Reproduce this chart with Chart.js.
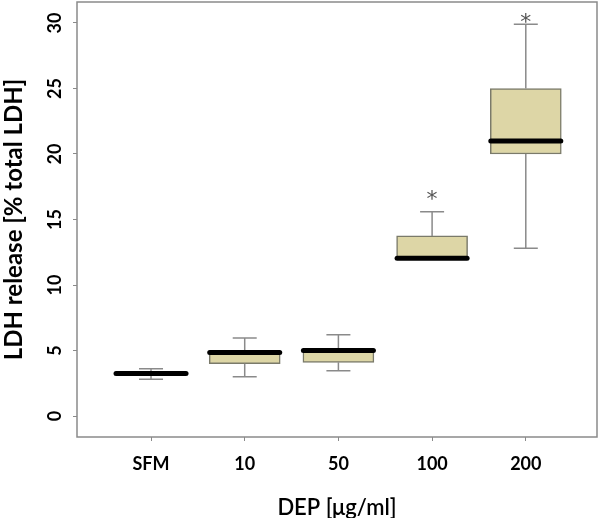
<!DOCTYPE html>
<html>
<head>
<meta charset="utf-8">
<style>
  html, body { margin: 0; padding: 0; background: #fff; }
  #wrap { width: 600px; height: 518px; }
</style>
<script src="https://cdn.jsdelivr.net/npm/chart.js@4.4.0/dist/chart.umd.min.js"></script>
</head>
<body>
<div id="wrap"><canvas id="chart"></canvas></div>
<script>
// Box plot values
const categories = ['SFM', '10', '50', '100', '200'];
const whiskerLow = [2.8, 3.0, 3.45, 12.0, 12.8];
const q1 = [3.15, 4.0, 4.1, 12.0, 20.0];
const medians = [3.25, 4.85, 5.0, 12.05, 21.0];
const q3 = [3.35, 4.95, 5.1, 13.75, 25.0];
const whiskerHigh = [3.6, 5.95, 6.2, 15.6, 29.9];
// significance markers (value where the * sits)
const starY = [null, null, null, 16.9, 30.4];
const yTicks = [0, 5, 10, 15, 20, 25, 30];

const fontFam = 'Lato, "Open Sans", sans-serif';
const boxFill = '#ddd6a6';
const greyLine = '#8a8a8a';

// draws whiskers, medians, stars and the frame
const boxPlotExtras = {
    id: 'boxPlotExtras',
    afterDatasetsDraw(chart) {
        const { ctx, chartArea, scales: { x, y } } = chart;
        ctx.save();
        categories.forEach((c, i) => {
            const cx = x.getPixelForValue(i + 1);
            const capHalf = 12;
            ctx.strokeStyle = greyLine;
            ctx.lineWidth = 1.5;
            ctx.beginPath();
            if (whiskerHigh[i] > q3[i]) {
                ctx.moveTo(cx, y.getPixelForValue(q3[i]));
                ctx.lineTo(cx, y.getPixelForValue(whiskerHigh[i]));
                ctx.moveTo(cx - capHalf, y.getPixelForValue(whiskerHigh[i]));
                ctx.lineTo(cx + capHalf, y.getPixelForValue(whiskerHigh[i]));
            }
            if (whiskerLow[i] < q1[i]) {
                ctx.moveTo(cx, y.getPixelForValue(q1[i]));
                ctx.lineTo(cx, y.getPixelForValue(whiskerLow[i]));
                ctx.moveTo(cx - capHalf, y.getPixelForValue(whiskerLow[i]));
                ctx.lineTo(cx + capHalf, y.getPixelForValue(whiskerLow[i]));
            }
            ctx.stroke();

            // median
            const my = y.getPixelForValue(medians[i]);
            ctx.strokeStyle = '#000';
            ctx.lineWidth = 5;
            ctx.lineCap = 'round';
            ctx.beginPath();
            ctx.moveTo(cx - 35, my);
            ctx.lineTo(cx + 35, my);
            ctx.stroke();
            ctx.lineCap = 'butt';

            if (starY[i] !== null) {
                ctx.fillStyle = '#555';
                ctx.font = '22px "DejaVu Sans"';
                ctx.textAlign = 'center';
                ctx.textBaseline = 'middle';
                ctx.fillText('*', cx, y.getPixelForValue(starY[i]) + 6);
            }
        });
        // plot frame
        ctx.strokeStyle = greyLine;
        ctx.lineWidth = 1.5;
        ctx.strokeRect(chartArea.left, chartArea.top, chartArea.right - chartArea.left, chartArea.bottom - chartArea.top);
        ctx.restore();
    }
};

document.addEventListener('DOMContentLoaded', () => {
    const canvas = document.getElementById('chart');
    new Chart(canvas, {
        type: 'bar',
        data: {
            datasets: [{
                data: categories.map((c, i) => ({ x: i + 1, y: [q1[i], q3[i]] })),
                backgroundColor: boxFill,
                borderColor: '#7a7a6a',
                borderWidth: 1.5,
                borderSkipped: false,
                barThickness: 71
            }]
        },
        options: {
            responsive: true,
            maintainAspectRatio: false,
            animation: false,
            layout: { padding: { top: 2, right: 3, left: 0, bottom: 0 } },
            plugins: { legend: { display: false }, tooltip: { enabled: false } },
            scales: {
                x: {
                    type: 'linear',
                    min: 0.21,
                    max: 5.76,
                    offset: false,
                    afterBuildTicks: s => { s.ticks = categories.map((c, i) => ({ value: i + 1 })); },
                    afterFit: s => { s.height = 81; s.paddingLeft = 0; s.paddingRight = 0; },
                    grid: { drawOnChartArea: false, offset: false, color: greyLine, tickLength: 4 },
                    border: { display: false },
                    ticks: {
                        callback: v => categories[v - 1],
                        color: '#000',
                        font: { family: fontFam, size: 18, weight: 'bold' },
                        padding: 12,
                        maxRotation: 0
                    },
                    title: {
                        display: true,
                        text: 'DEP [\u03bcg/ml]',
                        color: '#000',
                        font: { family: fontFam, size: 22, weight: '600' },
                        padding: { top: 0, bottom: -3 }
                    }
                },
                y: {
                    min: -1.6,
                    max: 31.6,
                    afterBuildTicks: s => { s.ticks = yTicks.map(v => ({ value: v })); },
                    afterFit: s => { s.width = 77; s.paddingTop = 0; s.paddingBottom = 0; },
                    grid: { drawOnChartArea: false, color: greyLine, tickLength: 4 },
                    border: { display: false },
                    ticks: {
                        color: '#000',
                        font: { family: fontFam, size: 18, weight: 'bold' },
                        minRotation: 90,
                        maxRotation: 90,
                        crossAlign: 'center',
                        padding: 7
                    },
                    title: {
                        display: true,
                        text: 'LDH release [% total LDH]',
                        color: '#000',
                        font: { family: fontFam, size: 24, weight: 'bold' },
                        padding: { top: 0 }
                    }
                }
            }
        },
        plugins: [boxPlotExtras]
    });
});
</script>
</body>
</html>
